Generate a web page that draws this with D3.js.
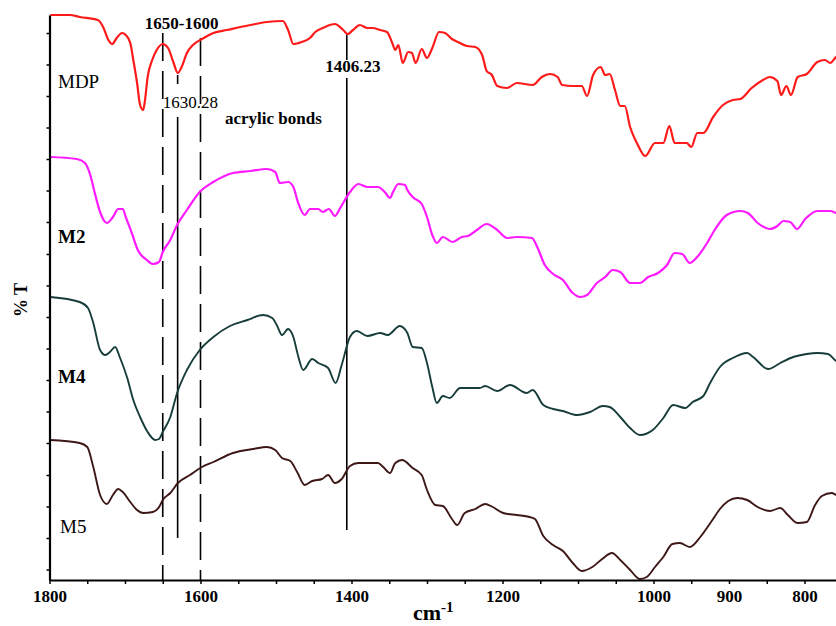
<!DOCTYPE html>
<html><head><meta charset="utf-8">
<script src="https://cdn.jsdelivr.net/npm/d3@7"></script>
<style>
html,body{margin:0;padding:0;background:#fff;}
svg{display:block;font-family:"Liberation Serif","Times New Roman",serif;}
</style></head>
<body><svg id="c" width="836" height="626"></svg>
<script>
// ---- data: [wavenumber cm-1, %T (offset, arbitrary units)] ----
const mdp = [[1799,113],[1773,113],[1760,112.6],[1736,112],[1729,110.6],[1722,108],[1717,107.2],[1711,108.4],[1704,109.4],[1699,109],[1693,107.4],[1689,104],[1684,99.4],[1680,95],[1676,94],[1674,95.4],[1670,100.6],[1664,104],[1658,106],[1650,107.2],[1643,106.4],[1636,103.6],[1630,101.4],[1625,102.6],[1618,105.4],[1610,107],[1598,108.2],[1583,109.4],[1565,110],[1534,111],[1512,111.6],[1491,111.8],[1484,110],[1477,107.2],[1466,107.6],[1455,108.4],[1448,109.6],[1438,110.4],[1422,111.2],[1411,110],[1405,109.2],[1398,110],[1389,111],[1379,110.4],[1372,110.4],[1362,110],[1353,109.6],[1346,107.4],[1342,106],[1338,107],[1332,103.4],[1325,105.6],[1320,105.4],[1315,103.4],[1307,106.2],[1300,104.4],[1293,106.4],[1284,109.6],[1276,109.4],[1267,108.2],[1259,107.6],[1247,106.8],[1236,106.6],[1227,105],[1221,101.8],[1214,101],[1207,98.8],[1194,98.4],[1181,99.4],[1160,99],[1148,100.6],[1137,101.2],[1127,100.6],[1121,99],[1107,98.8],[1095,98.8],[1088,96.8],[1080,101],[1070,102.6],[1064,101],[1058,101.2],[1051,98],[1044,94.8],[1038,94.8],[1031,90.6],[1022,87.4],[1011,84.8],[998,87.4],[987,87.4],[979,90.8],[972,87.4],[956,87.4],[950,86.6],[942,89.4],[934,89.4],[921,92.6],[908,95],[895,96],[885,96.2],[870,98.4],[855,100],[846,100.6],[836,99.8],[831,97],[824,98.8],[818,97],[809,100.6],[797,101.2],[783,103.6],[773,104],[766,103.4],[758,104.6],[749,105]];
const m2 = [[1799,84.6],[1764,84.2],[1753,83.4],[1746,81],[1740,77.4],[1733,73.6],[1724,71.4],[1716,72.6],[1709,74.2],[1703,74.2],[1699,72.6],[1691,69.4],[1683,66],[1671,64],[1663,63.2],[1655,63.6],[1650,65.6],[1640,68],[1631,71],[1618,74],[1601,77.6],[1583,79.6],[1557,81.4],[1534,81.8],[1512,82.2],[1501,81.6],[1495,79.4],[1484,79.6],[1477,78.6],[1471,75.6],[1462,73],[1455,74.2],[1444,74.2],[1438,73.6],[1430,74.2],[1422,72.8],[1415,74.4],[1402,77.6],[1391,79.2],[1379,78.6],[1365,78.6],[1356,77.6],[1349,76.4],[1345,77.6],[1338,79.2],[1329,79],[1326,78],[1319,76.6],[1307,75.2],[1300,72.6],[1293,69],[1287,67.4],[1279,68.6],[1266,67.6],[1254,68.6],[1246,68.8],[1234,70],[1221,71.2],[1207,70],[1194,68.4],[1181,68.6],[1161,68.4],[1154,66.6],[1144,63],[1133,61.2],[1120,60],[1107,57.4],[1097,56.6],[1088,57],[1075,59.4],[1064,60.6],[1054,62],[1044,61.6],[1031,59.4],[1018,59.4],[1007,60.6],[994,61.4],[982,63],[972,65.4],[962,65.2],[952,63.4],[941,64.8],[929,67.4],[919,70],[903,73],[885,73.8],[875,73.4],[862,71.4],[846,70.2],[836,70.8],[828,71.8],[819,71.6],[810,70.2],[799,72.2],[783,73.8],[766,73.8],[758,73.4],[749,73]];
const m4 = [[1799,56.6],[1760,55.6],[1749,54.4],[1742,51.4],[1733,46],[1726,45],[1720,45.6],[1713,46.6],[1707,44.6],[1697,40.4],[1689,36],[1680,32.6],[1670,29.6],[1660,28],[1655,28.2],[1650,29.6],[1640,32.6],[1631,37.4],[1618,42],[1601,46],[1583,48.6],[1561,50.8],[1538,52],[1517,53],[1505,52.4],[1499,51],[1492,49],[1484,50.2],[1477,48.6],[1471,45],[1464,42],[1452,44.2],[1444,43.4],[1431,42.4],[1421,39.4],[1413,43],[1402,48.6],[1393,49.8],[1379,48.8],[1362,49.4],[1352,49],[1336,50.8],[1326,49.4],[1319,46.6],[1307,46.4],[1300,43.4],[1293,38.6],[1287,35.4],[1279,36.8],[1270,36.4],[1256,38.4],[1230,38.4],[1223,38.8],[1207,37.8],[1190,39],[1168,37.4],[1160,38],[1146,35],[1133,34.2],[1120,33.8],[1101,33],[1084,33.6],[1067,34.8],[1058,34.6],[1044,32.6],[1031,30.4],[1018,29],[1001,30],[987,32.4],[974,35],[958,34.4],[948,35.6],[934,36.8],[925,39.4],[912,42.6],[895,44.4],[876,45.4],[868,44.6],[848,42.2],[832,43.4],[815,44.6],[797,45.2],[783,45.4],[769,45.2],[758,43.8],[749,43.2]];
const m5 = [[1799,28],[1760,27.4],[1750,26.6],[1742,22.6],[1733,17],[1724,15.2],[1716,17],[1709,18.2],[1703,17.6],[1693,15.6],[1684,14],[1676,13.4],[1663,13.6],[1654,14.8],[1650,16],[1640,17.4],[1630,19.4],[1614,21],[1598,22.6],[1583,23.6],[1557,25.4],[1530,26.2],[1512,26.6],[1501,26],[1492,24.4],[1481,23.8],[1472,21.6],[1462,19],[1452,19.8],[1439,20.2],[1431,21],[1422,19.4],[1413,20.2],[1402,22.8],[1391,23.4],[1379,23.4],[1365,23.4],[1358,22.6],[1349,21.4],[1342,23.4],[1333,24],[1319,22.4],[1307,21],[1300,18],[1289,15],[1279,14.8],[1267,12.2],[1260,11],[1250,13.4],[1236,14.2],[1223,15.2],[1213,14.6],[1199,13.4],[1181,13],[1164,12.6],[1157,12.2],[1146,8.8],[1133,7],[1120,5.8],[1107,3.4],[1095,1.8],[1081,2.6],[1068,4.2],[1055,5.4],[1044,4],[1031,2],[1018,0.2],[1009,0.6],[998,2.6],[987,4.6],[975,7.2],[965,7.4],[952,6.6],[938,8.6],[922,12],[912,14.2],[901,15.8],[889,16.4],[876,16],[862,14.6],[846,13.8],[832,14.4],[822,13],[809,11.4],[797,11.6],[786,15],[777,16.8],[764,17.4],[758,17],[749,16.6]];

const seriesNames = ["MDP","M2","M4","M5"];
const seriesData = [mdp, m2, m4, m5];
const seriesColors = ["#ff1a1a","#ff1aff","#163d3a","#3e1717"];
const labelLevels = [98.4, 67.4, 39.4, 9.4];

const xTicks = [1800,1750,1700,1650,1600,1550,1500,1450,1400,1350,1300,1250,1200,1150,1100,1050,1000,950,900,850,800];
const xLabels = [1800,1600,1400,1200,1000,900,800];
const yTicks = [2.1,8.4,14.7,21.0,27.4,33.7,40.0,46.3,52.6,58.9,65.2,71.6,77.9,84.2,90.5,96.8,103.1,109.4];

// reference lines: wavenumber, dashed?, vertical segments (in %T units)
const refLines = [
  {wn:1650, dashed:true, segs:[[109.4,0]]},
  {wn:1600, dashed:true, segs:[[108.4,0]]},
  {wn:1630.28, dashed:false, segs:[[101,99.2],[92.6,8.4]]},
  {wn:1406.23, dashed:false, segs:[[109,104],[100.4,10]]}
];

const svg = d3.select("#c");
const x = d3.scaleLinear().domain([1800,750]).range([49.5,842.25]);
const y = d3.scaleLinear().domain([0,113]).range([580,15]);

// reference lines
refLines.forEach(r => {
  r.segs.forEach(s => {
    svg.append("line")
      .attr("x1", x(r.wn)).attr("x2", x(r.wn))
      .attr("y1", y(s[0])).attr("y2", y(s[1]))
      .attr("stroke", "#000").attr("stroke-width", 1.6)
      .attr("stroke-dasharray", r.dashed ? "28,10" : null);
  });
});

// curves
const line = d3.line().x(d => x(d[0])).y(d => y(d[1])).curve(d3.curveMonotoneX);
seriesData.forEach((data, i) => {
  svg.append("path").datum(data)
    .attr("d", line)
    .attr("fill", "none")
    .attr("stroke", seriesColors[i])
    .attr("stroke-width", i < 2 ? 2.2 : 1.9)
    .attr("stroke-linejoin", "round");
});

// axes
const xAxis = d3.axisBottom(x).tickValues(xTicks).tickSize(4).tickSizeOuter(0)
  .tickFormat(d => xLabels.includes(d) ? d : "");
const gx = svg.append("g").attr("transform", "translate(0,580)").call(xAxis);
gx.select(".domain").attr("stroke-width", 2.2);
gx.selectAll(".tick line").attr("stroke-width", 1.5);
gx.selectAll(".tick text").attr("font-family", "Liberation Serif, serif")
  .attr("font-weight", "bold").attr("font-size", 17).attr("fill", "#000").attr("dy", null).attr("y", 22);

const yAxis = d3.axisLeft(y).tickValues(yTicks).tickSize(3).tickSizeOuter(0).tickFormat("");
const gy = svg.append("g").attr("transform", "translate(49.5,0)").call(yAxis);
gy.select(".domain").attr("stroke-width", 2.2);
gy.selectAll(".tick line").attr("stroke-width", 1.5);

// series labels
seriesNames.forEach((n, i) => {
  svg.append("text").attr("x", i === 3 ? 60 : 58).attr("y", y(labelLevels[i]))
    .attr("font-size", 19).attr("font-weight", (i === 1 || i === 2) ? "bold" : "normal")
    .text(n);
});

// annotations
svg.append("text").attr("x", (x(1650) + x(1600)) / 2).attr("y", 29)
  .attr("text-anchor", "middle").attr("font-size", 17).attr("font-weight", "bold").text("1650-1600");
svg.append("text").attr("x", x(1650)).attr("y", 108)
  .attr("font-size", 17).text("1630.28");
svg.append("text").attr("x", x(1406.23) + 6).attr("y", 72)
  .attr("text-anchor", "middle").attr("font-size", 17).attr("font-weight", "bold").text("1406.23");
svg.append("text").attr("x", 225).attr("y", 124)
  .attr("font-size", 17).attr("font-weight", "bold").text("acrylic bonds");

// axis titles
const xt = svg.append("text").attr("x", 413).attr("y", 620).attr("font-size", 22).attr("font-weight", "bold");
xt.append("tspan").text("cm");
xt.append("tspan").attr("font-size", 15).attr("dy", -8).text("-1");
svg.append("text").attr("transform", "translate(27,300) rotate(-90)")
  .attr("text-anchor", "middle").attr("font-size", 18).attr("font-weight", "bold").text("% T");
</script></body></html>
